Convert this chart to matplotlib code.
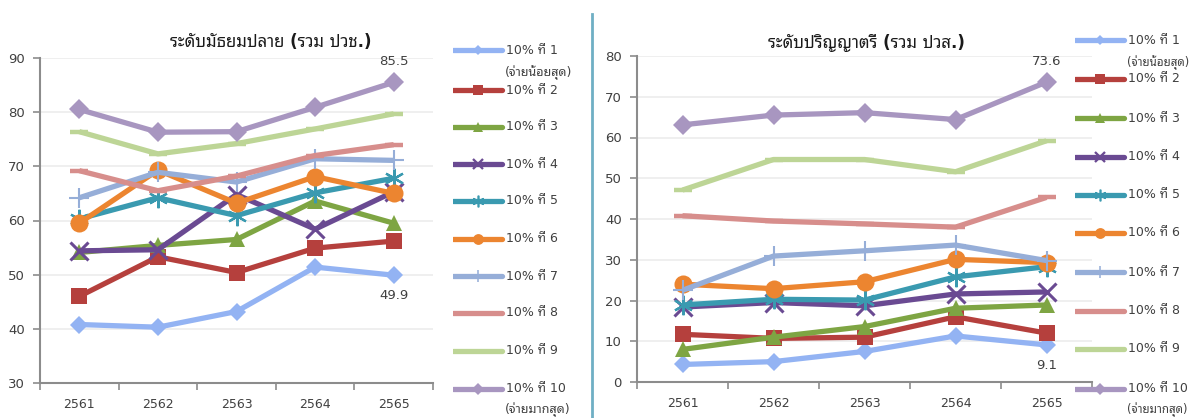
import matplotlib
matplotlib.use("Agg")
import matplotlib.pyplot as plt
from matplotlib.lines import Line2D

plt.rcParams["font.family"] = ["DejaVu Sans", "Noto Sans Thai Looped", "Loma"]

years = ["2561", "2562", "2563", "2564", "2565"]

series_names = ["10% ที่ 1", "10% ที่ 2", "10% ที่ 3", "10% ที่ 4", "10% ที่ 5",
                "10% ที่ 6", "10% ที่ 7", "10% ที่ 8", "10% ที่ 9", "10% ที่ 10"]
first_note = "(จ่ายน้อยสุด)"
last_note = "(จ่ายมากสุด)"

title_upper = "ระดับมัธยมปลาย (รวม ปวช.)"
title_degree = "ระดับปริญญาตรี (รวม ปวส.)"

# upper secondary (incl. vocational certificate)
upper_1 = [40.8, 40.3, 43.2, 51.4, 49.9]
upper_2 = [46.0, 53.3, 50.4, 54.9, 56.2]
upper_3 = [54.1, 55.4, 56.5, 63.6, 59.5]
upper_4 = [54.4, 54.6, 64.8, 58.4, 65.3]
upper_5 = [60.3, 64.2, 60.9, 65.1, 67.8]
upper_6 = [59.5, 69.3, 63.2, 68.1, 65.0]
upper_7 = [64.2, 68.9, 67.1, 71.4, 71.1]
upper_8 = [69.2, 65.5, 68.2, 72.0, 74.0]
upper_9 = [76.4, 72.3, 74.2, 76.9, 79.7]
upper_10 = [80.5, 76.3, 76.4, 80.9, 85.5]

# bachelor's degree (incl. higher vocational diploma)
degree_1 = [4.3, 5.0, 7.5, 11.3, 9.1]
degree_2 = [11.7, 10.7, 11.0, 16.0, 12.0]
degree_3 = [8.0, 11.0, 13.6, 18.1, 18.9]
degree_4 = [18.4, 19.5, 18.7, 21.6, 22.1]
degree_5 = [18.9, 20.3, 20.1, 25.8, 28.3]
degree_6 = [24.0, 22.9, 24.6, 30.1, 29.3]
degree_7 = [22.5, 30.9, 32.2, 33.6, 29.8]
degree_8 = [40.8, 39.5, 38.8, 38.0, 45.3]
degree_9 = [47.1, 54.6, 54.6, 51.6, 59.2]
degree_10 = [63.1, 65.5, 66.1, 64.4, 73.6]

upper = [upper_1, upper_2, upper_3, upper_4, upper_5,
         upper_6, upper_7, upper_8, upper_9, upper_10]
degree = [degree_1, degree_2, degree_3, degree_4, degree_5,
          degree_6, degree_7, degree_8, degree_9, degree_10]

colors = ["#93B3F3", "#B5403D", "#7EA543", "#6A4A92", "#3A9AB0",
          "#EC8530", "#96AED8", "#D78E8C", "#BDD596", "#A896C0"]
markers = ["D", "s", "^", "x", "*", "o", "+", "_", "_", "D"]
msizes = [9, 11, 12, 13, 14, 13, 14, 13, 13, 10]
mews = [1, 1, 1, 2.2, 1.6, 1, 1.5, 3.2, 3.2, 1]

W, H = 1193, 418
fig = plt.figure(figsize=(W / 100, H / 100), dpi=100)


def px_axes(x0, y0, x1, y1):
    return fig.add_axes([x0 / W, 1 - y1 / H, (x1 - x0) / W, (y1 - y0) / H])


def style_marker(i, scale=1.0, legend=False):
    m = markers[i]
    ms = msizes[i] * scale
    mew = mews[i] * (0.75 if legend else 1.0)
    if m == "_":
        if legend:
            return dict(marker="None")
        return dict(marker=m, markersize=ms, markeredgewidth=mew,
                    markeredgecolor=colors[i])
    if m in ("x", "+"):
        return dict(marker=m, markersize=ms, markeredgewidth=mew,
                    markeredgecolor=colors[i], markerfacecolor=colors[i])
    if m == "*":
        return dict(marker=(6, 2, 0), markersize=ms, markeredgewidth=mew,
                    markeredgecolor=colors[i], markerfacecolor=colors[i])
    return dict(marker=m, markersize=ms, markeredgewidth=0,
                markerfacecolor=colors[i])


def draw_panel(ax, data, ymin, ymax, top_label, bottom_label):
    xs = range(len(years))
    for i, vals in enumerate(data):
        ax.plot(xs, vals, color=colors[i], lw=3.8, solid_joinstyle="round",
                solid_capstyle="butt", zorder=2 + i * 0.01, **style_marker(i))
    ax.set_xlim(-0.5, len(years) - 0.5)
    ax.set_ylim(ymin, ymax)
    ax.set_yticks(range(ymin, ymax + 1, 10))
    ax.set_xticks([x - 0.5 for x in range(len(years) + 1)], minor=False)
    ax.set_xticklabels([])
    ax.set_xticks(list(xs), minor=True)
    ax.set_xticklabels(years, minor=True)
    ax.tick_params(axis="x", which="minor", length=0, pad=11,
                   labelsize=9, labelcolor="#404040")
    ax.tick_params(axis="x", which="major", length=5, width=1.2,
                   color="#8c8c8c")
    ax.tick_params(axis="y", length=5, width=1.2, color="#8c8c8c",
                   labelsize=9.5, labelcolor="#404040", pad=6)
    ax.grid(axis="y", color="#ececec", lw=1.2)
    ax.set_axisbelow(True)
    for s in ("top", "right"):
        ax.spines[s].set_visible(False)
    for s in ("left", "bottom"):
        ax.spines[s].set_color("#8c8c8c")
        ax.spines[s].set_linewidth(1.5)
    ax.annotate(f"{top_label:.1f}", (len(years) - 1, top_label),
                xytext=(0, 10), textcoords="offset points", ha="center",
                va="bottom", fontsize=9.5, color="#404040")
    ax.annotate(f"{bottom_label:.1f}", (len(years) - 1, bottom_label),
                xytext=(0, -10), textcoords="offset points", ha="center",
                va="top", fontsize=9.5, color="#404040")


ax_l = px_axes(40, 58, 433, 383)
draw_panel(ax_l, upper, 30, 90, upper_10[-1], upper_1[-1])
ax_r = px_axes(637, 56, 1092, 382)
draw_panel(ax_r, degree, 0, 80, degree_10[-1], degree_1[-1])

fig.text(271 / W, 1 - 42 / H, title_upper, ha="center", va="center",
         fontsize=12, fontweight="bold", color="#1a1a1a")
fig.text(866 / W, 1 - 43 / H, title_degree, ha="center", va="center",
         fontsize=12, fontweight="bold", color="#1a1a1a")


def draw_legend(x0, x1, ys, note_top, note_bottom, note_size):
    lg = px_axes(x0, 0, x1 + 120, H)
    lg.set_xlim(x0, x1 + 120)
    lg.set_ylim(H, 0)
    lg.axis("off")
    for i, y in enumerate(ys):
        st = style_marker(i, scale=0.6, legend=True)
        lg.add_line(Line2D([x0, x1], [y, y], color=colors[i], lw=3.8,
                           solid_capstyle="round"))
        lg.add_line(Line2D([(x0 + x1) / 2], [y], linestyle="none", **st))
        lg.text(x1 + 4, y, series_names[i], va="center", ha="left",
                fontsize=9, color="#404040")
    lg.text(x1 + 3, ys[0] + 23, note_top, va="center", ha="left",
            fontsize=note_size, color="#404040")
    lg.text(x1 + 3, ys[-1] + 21, note_bottom, va="center", ha="left",
            fontsize=note_size, color="#404040")


draw_legend(453, 502, [50, 90, 127, 164, 201, 239, 276, 313, 351, 389],
            first_note, last_note, 9)
draw_legend(1075, 1124, [40, 79, 118, 157, 195, 233, 272, 311, 349, 389],
            first_note, last_note, 8.3)

fig.add_artist(Line2D([592 / W, 592 / W], [0, 1 - 14 / H],
                      transform=fig.transFigure, color="#6FAFC4", lw=2))

fig.savefig("out.png", dpi=100)
